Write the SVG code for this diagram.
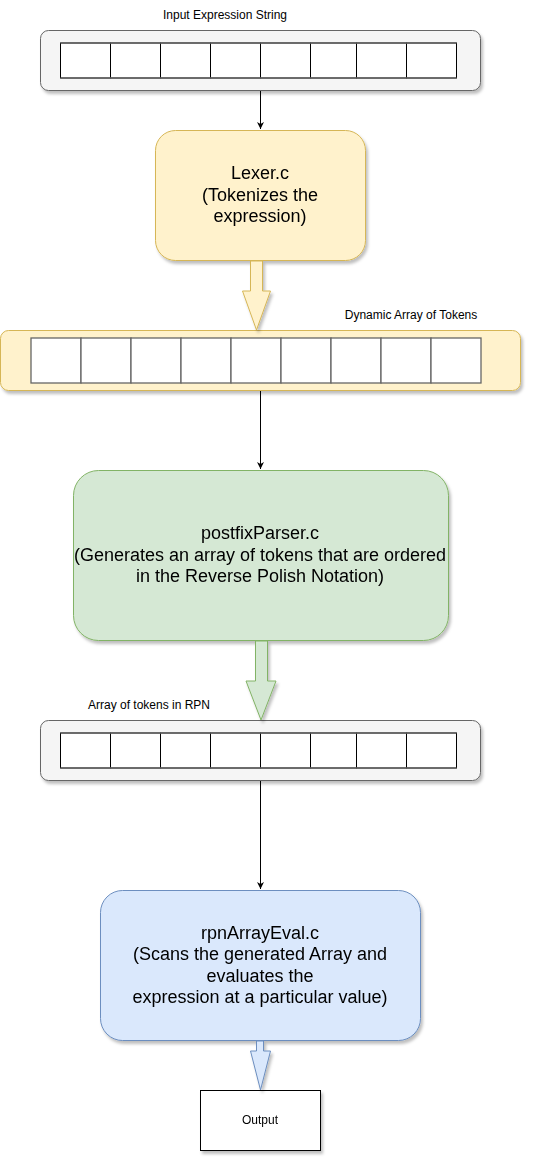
<svg xmlns="http://www.w3.org/2000/svg" width="533" height="1162" viewBox="0 0 533 1162">
<defs>
<filter id="sh" x="-10%" y="-10%" width="130%" height="140%">
<feDropShadow dx="2" dy="3" stdDeviation="1.6" flood-color="#000" flood-opacity="0.25"/>
</filter>
<marker id="ah" markerWidth="8" markerHeight="8" refX="7" refY="4" orient="auto" markerUnits="userSpaceOnUse">
<path d="M0,0.5 L7,4 L0,7.5 L2,4 Z" fill="#000"/>
</marker>
<style>
text{font-family:"Liberation Sans",Arial,sans-serif;fill:#000;text-anchor:middle}
.big{font-size:18px}
.small{font-size:12px}
.cell{fill:#fff;stroke:#000;stroke-width:1}
.cellg{fill:#fff;stroke:#666;stroke-width:1.3}
.hl{stroke:#666;stroke-width:1.5;fill:none}
.conn{stroke:#000;stroke-width:1;fill:none}
</style>
</defs>

<g id="input-array" filter="url(#sh)">
<rect x="40.5" y="30.5" width="440" height="60" rx="8" fill="#f5f5f5" stroke="#666"/>
<rect class="cell" x="60.5" y="43" width="50" height="35"/>
<rect class="cell" x="110.5" y="43" width="50" height="35"/>
<rect class="cell" x="160.5" y="43" width="50" height="35"/>
<rect class="cell" x="210.5" y="43" width="50" height="35"/>
<rect class="cell" x="260.5" y="43" width="50" height="35"/>
<rect class="cell" x="310.5" y="43" width="46" height="35"/>
<rect class="cell" x="356.5" y="43" width="50" height="35"/>
<rect class="cell" x="406.5" y="43" width="50" height="35"/>
<line class="hl" x1="60.5" y1="43" x2="456.5" y2="43"/>
<line class="hl" x1="60.5" y1="78" x2="456.5" y2="78"/>
</g>
<g id="label-input"><text class="small" x="225" y="19">Input Expression String</text></g>

<g id="lexer" filter="url(#sh)">
<rect x="155.5" y="130.5" width="210" height="130" rx="20" fill="#fff2cc" stroke="#d6b656"/>
<text class="big" x="260" y="179">Lexer.c</text>
<text class="big" x="260" y="201">(Tokenizes the</text>
<text class="big" x="260" y="222">expression)</text>
</g>

<g id="token-array" filter="url(#sh)">
<rect x="0.5" y="330.5" width="520" height="60" rx="8" fill="#fff2cc" stroke="#d6b656"/>
<rect class="cellg" x="31" y="338" width="50" height="45"/>
<rect class="cellg" x="81" y="338" width="50" height="45"/>
<rect class="cellg" x="131" y="338" width="50" height="45"/>
<rect class="cellg" x="181" y="338" width="50" height="45"/>
<rect class="cellg" x="231" y="338" width="50" height="45"/>
<rect class="cellg" x="281" y="338" width="50" height="45"/>
<rect class="cellg" x="331" y="338" width="50" height="45"/>
<rect class="cellg" x="381" y="338" width="50" height="45"/>
<rect class="cellg" x="431" y="338" width="50" height="45"/>
</g>
<g id="label-tokens"><text class="small" x="411" y="319">Dynamic Array of Tokens</text></g>

<g id="parser" filter="url(#sh)">
<rect x="73.5" y="470.5" width="375" height="170" rx="25" fill="#d5e8d4" stroke="#82b366"/>
<text class="big" x="260" y="539">postfixParser.c</text>
<text class="big" x="260" y="561">(Generates an array of tokens that are ordered</text>
<text class="big" x="260" y="582">in the Reverse Polish Notation)</text>
</g>

<g id="rpn-array" filter="url(#sh)">
<rect x="40.5" y="720.5" width="440" height="60" rx="8" fill="#f5f5f5" stroke="#666"/>
<rect class="cell" x="60.5" y="733" width="50" height="35"/>
<rect class="cell" x="110.5" y="733" width="50" height="35"/>
<rect class="cell" x="160.5" y="733" width="50" height="35"/>
<rect class="cell" x="210.5" y="733" width="50" height="35"/>
<rect class="cell" x="260.5" y="733" width="50" height="35"/>
<rect class="cell" x="310.5" y="733" width="46" height="35"/>
<rect class="cell" x="356.5" y="733" width="50" height="35"/>
<rect class="cell" x="406.5" y="733" width="50" height="35"/>
<line class="hl" x1="60.5" y1="733" x2="456.5" y2="733"/>
<line class="hl" x1="60.5" y1="768" x2="456.5" y2="768"/>
</g>
<g id="label-rpn"><text class="small" x="149" y="709">Array of tokens in RPN</text></g>

<g id="evaluator" filter="url(#sh)">
<rect x="100.5" y="890.5" width="320" height="150" rx="22" fill="#dae8fc" stroke="#6c8ebf"/>
<text class="big" x="260" y="939">rpnArrayEval.c</text>
<text class="big" x="260" y="960">(Scans the generated Array and</text>
<text class="big" x="260" y="982">evaluates the</text>
<text class="big" x="260" y="1003">expression at a particular value)</text>
</g>

<g id="output" filter="url(#sh)">
<rect x="200.5" y="1090.5" width="120" height="60" fill="#fff" stroke="#000"/>
<text class="small" x="260" y="1124">Output</text>
</g>

<g id="connectors">
<line class="conn" x1="260.5" y1="91" x2="260.5" y2="129" marker-end="url(#ah)"/>
<line class="conn" x1="260.5" y1="391" x2="260.5" y2="469" marker-end="url(#ah)"/>
<line class="conn" x1="260.5" y1="781" x2="260.5" y2="889" marker-end="url(#ah)"/>
<path filter="url(#sh)" d="M250.5,261 L262.5,261 L262.5,291 L270.5,291 L256.5,330 L242.5,291 L250.5,291 Z" fill="#fff2cc" stroke="#d6b656"/>
<path filter="url(#sh)" d="M255.5,641 L267.5,641 L267.5,681 L276,681 L261,720 L246,681 L255.5,681 Z" fill="#d5e8d4" stroke="#82b366"/>
<path filter="url(#sh)" d="M256.5,1041 L263.5,1041 L263.5,1051 L270.5,1051 L260.5,1090 L250.5,1051 L256.5,1051 Z" fill="#dae8fc" stroke="#6c8ebf"/>
</g>
</svg>
